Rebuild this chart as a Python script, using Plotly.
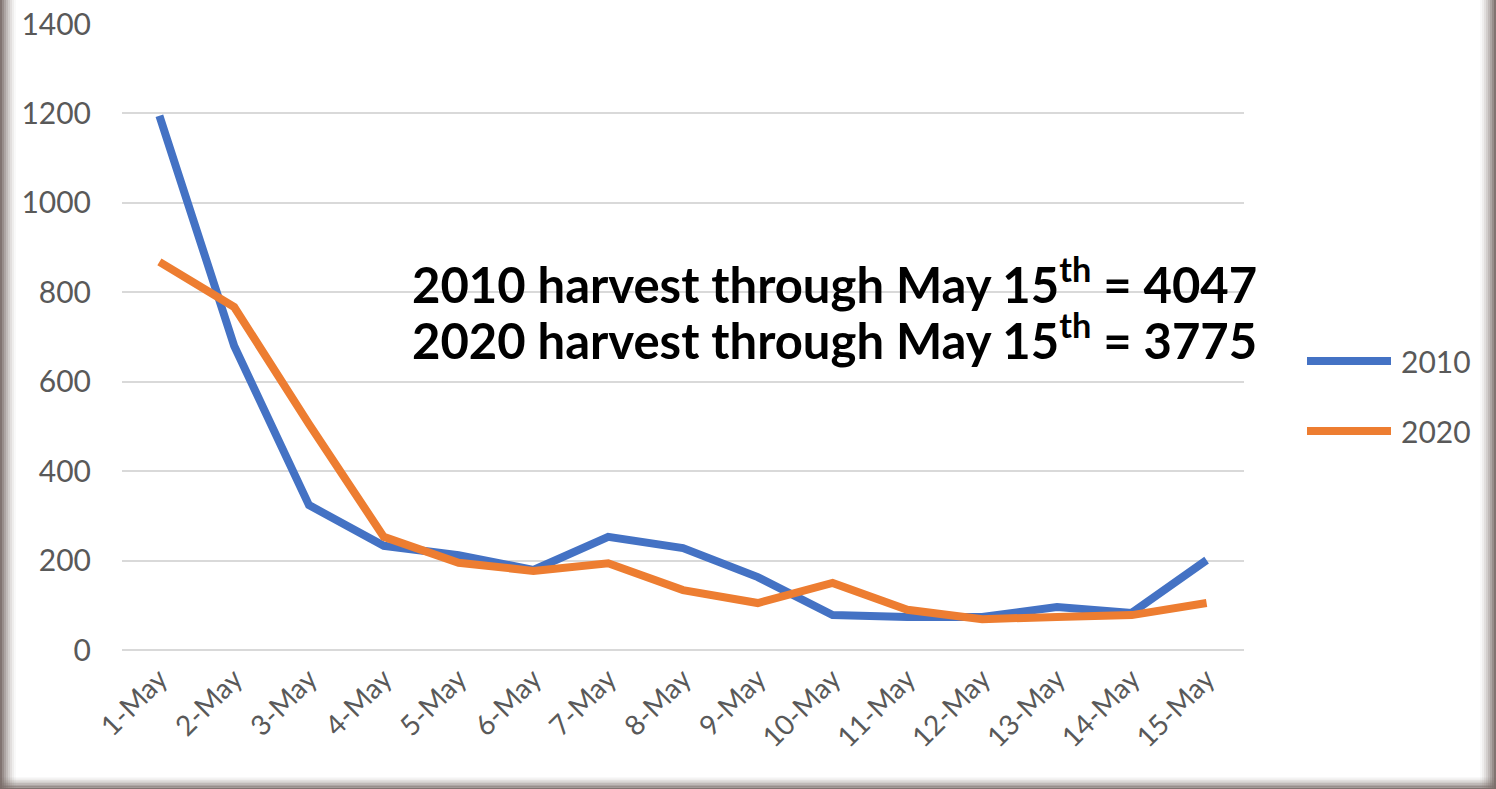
import plotly.graph_objects as go

dates = ["1-May", "2-May", "3-May", "4-May", "5-May", "6-May", "7-May", "8-May",
         "9-May", "10-May", "11-May", "12-May", "13-May", "14-May", "15-May"]
harvest_2010 = [1195, 680, 324, 233, 212, 179, 253, 228, 163, 78, 74, 74, 96, 83, 201]
harvest_2020 = [868, 767, 505, 253, 195, 177, 194, 134, 105, 150, 90, 69, 74, 78, 105]
y_ticks = [0, 200, 400, 600, 800, 1000, 1200, 1400]
total_2010 = 4047
total_2020 = 3775

W, H = 1496, 789
L, R, T, B = 122, 1244, 24, 650

def px(x):
    return (x - L) / (R - L)

def py(y):
    return (B - y) / (B - T)

BLUE = "#4472C4"
ORANGE = "#ED7D31"
TICK = "#595959"
FONT = "Lato, sans-serif"

fig = go.Figure()
fig.add_trace(go.Scatter(x=dates, y=harvest_2010, mode="lines", name="2010",
                         line=dict(color=BLUE, width=8), showlegend=False))
fig.add_trace(go.Scatter(x=dates, y=harvest_2020, mode="lines", name="2020",
                         line=dict(color=ORANGE, width=8), showlegend=False))

shapes = []
# custom legend
for yy, col in [(361, BLUE), (431, ORANGE)]:
    shapes.append(dict(type="line", xref="paper", yref="paper",
                       x0=px(1307), x1=px(1391), y0=py(yy), y1=py(yy),
                       line=dict(color=col, width=8), layer="above"))
# frame shading (gradient edges)
EDGE = "#7a6d69"
steps = 8
for i in range(steps):
    op = 0.95 * (1 - i / steps) ** 1.5
    # left
    shapes.append(dict(type="rect", xref="paper", yref="paper",
                       x0=px(i * 2), x1=px(i * 2 + 2), y0=py(H), y1=py(0),
                       fillcolor=EDGE, opacity=op, line=dict(width=0), layer="above"))
    # right
    shapes.append(dict(type="rect", xref="paper", yref="paper",
                       x0=px(W - i * 2 - 2), x1=px(W - i * 2), y0=py(H), y1=py(0),
                       fillcolor=EDGE, opacity=op, line=dict(width=0), layer="above"))
    # bottom
    shapes.append(dict(type="rect", xref="paper", yref="paper",
                       x0=px(0), x1=px(W), y0=py(H - i * 1.5), y1=py(H - i * 1.5 - 1.5),
                       fillcolor=EDGE, opacity=op, line=dict(width=0), layer="above"))

annotations = [
    dict(xref="paper", yref="paper", x=px(1399), y=py(361), xanchor="left", yanchor="middle",
         text="2010", showarrow=False, font=dict(family=FONT, size=30, color=TICK)),
    dict(xref="paper", yref="paper", x=px(1399), y=py(431), xanchor="left", yanchor="middle",
         text="2020", showarrow=False, font=dict(family=FONT, size=30, color=TICK)),
    dict(xref="paper", yref="paper", x=px(410), y=py(280), xanchor="left", yanchor="middle",
         align="left", showarrow=False,
         text=f"<b>2010 harvest through May 15<sup>th</sup> = {total_2010}</b>",
         font=dict(family=FONT, size=49, color="#000000")),
    dict(xref="paper", yref="paper", x=px(410), y=py(336), xanchor="left", yanchor="middle",
         align="left", showarrow=False,
         text=f"<b>2020 harvest through May 15<sup>th</sup> = {total_2020}</b>",
         font=dict(family=FONT, size=49, color="#000000")),
]

fig.update_layout(
    width=W, height=H,
    margin=dict(l=L, r=W - R, t=T, b=H - B, pad=0),
    paper_bgcolor="white", plot_bgcolor="white",
    shapes=shapes, annotations=annotations,
    xaxis=dict(type="category", range=[-0.5, len(dates) - 0.5], tickangle=-45,
               showgrid=False, showline=False, automargin=False,
               ticks="", tickfont=dict(family=FONT, size=28, color=TICK),
               zeroline=False, ticklabelstandoff=6),
    yaxis=dict(range=[0, 1400], tickvals=y_ticks, showgrid=True, gridcolor="#D9D9D9",
               gridwidth=2, zeroline=True, zerolinecolor="#D9D9D9", zerolinewidth=2,
               showline=False, ticks="", ticklabelstandoff=30, automargin=False,
               tickfont=dict(family=FONT, size=30, color=TICK)),
    showlegend=False,
)

fig.write_html("out.html", config={"displayModeBar": False},
               post_script="document.body.style.margin='0';document.body.style.overflow='hidden';")
